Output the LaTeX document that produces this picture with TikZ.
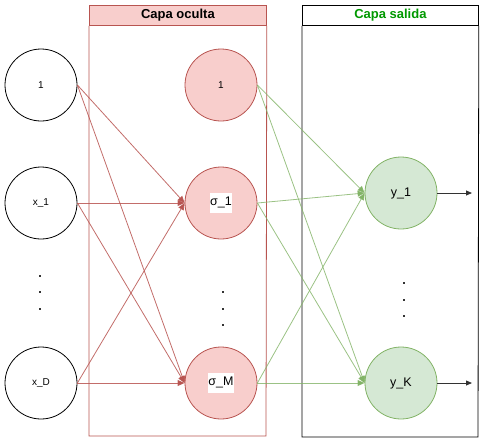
\documentclass[tikz,border=0pt]{standalone}
\usepackage{fontspec}
\setmainfont{Liberation Sans}
\usetikzlibrary{arrows.meta}
\definecolor{rstroke}{HTML}{B85450}
\definecolor{rfill}{HTML}{F8CECC}
\definecolor{gstroke}{HTML}{82B366}
\definecolor{gfill}{HTML}{D5E8D4}
\definecolor{gtext}{HTML}{009900}
\begin{document}
\begin{tikzpicture}[x=1pt,y=-1pt,
  inneur/.style={circle,draw=black,line width=0.8pt,minimum size=72pt,inner sep=0pt,font=\fontsize{10}{12}\selectfont},
  hidneur/.style={circle,draw=rstroke,fill=rfill,line width=0.8pt,minimum size=72pt,inner sep=0pt,font=\fontsize{12.5}{14}\selectfont},
  outneur/.style={circle,draw=gstroke,fill=gfill,line width=0.8pt,minimum size=72pt,inner sep=0pt,font=\fontsize{12.5}{14}\selectfont},
  redge/.style={draw=rstroke,draw opacity=0.85,line width=0.8pt,-{Triangle[length=7pt,width=6pt]}},
  gedge/.style={draw=gstroke,draw opacity=0.8,line width=0.8pt,-{Triangle[length=7pt,width=6pt]}},
  oedge/.style={draw=black!80,line width=0.8pt,-{Triangle[length=6pt,width=5pt]}},
  dotsq/.style={fill=black!80,minimum size=1.5pt,inner sep=0pt}
]
\useasboundingbox (0,0) rectangle (486,442);
% layers
\node[draw=rstroke,line width=0.8pt,minimum width=177pt,minimum height=20pt,fill=rfill,anchor=north west,inner sep=0pt,font=\bfseries\fontsize{13}{15}\selectfont] (hhead) at (89,5) {Capa oculta};
\draw[rstroke,line width=0.8pt] (hhead.south west) -- (89,436) -- (266,436) -- (hhead.south east);
\node[draw=black,line width=0.8pt,minimum width=176pt,minimum height=20pt,fill=white,anchor=north west,inner sep=0pt,text=gtext,font=\bfseries\fontsize{13}{15}\selectfont] (ohead) at (302,5) {Capa salida};
\draw[black,line width=0.8pt] (ohead.south west) -- (302,437) -- (478,437) -- (ohead.south east);
% input neurons
\node[inneur] (i0) at (41,85) {1};
\node[inneur] (i1) at (41,203) {x\_1};
\node[inneur] (iD) at (41,383) {x\_D};
\node[dotsq] (id1) at (40,276) {};
\node[dotsq] (id2) at (40,292) {};
\node[dotsq] (id3) at (40,309) {};
% hidden neurons
\node[hidneur] (h0) at (221,85) {\fontsize{10}{12}\selectfont 1};
\node[hidneur] (h1) at (221,203) {\colorbox{white}{\strut\kern-3pt σ\_1\kern-3pt}};
\node[hidneur] (hM) at (221,383) {\colorbox{white}{\strut\kern-3pt σ\_M\kern-3pt}};
\node[dotsq] (hd1) at (223,292) {};
\node[dotsq] (hd2) at (223,309) {};
\node[dotsq] (hd3) at (223,325) {};
% output neurons
\node[outneur] (o1) at (401,193) {y\_1};
\node[outneur] (oK) at (401,383) {y\_K};
\node[dotsq] (od1) at (404,283) {};
\node[dotsq] (od2) at (404,300) {};
\node[dotsq] (od3) at (404,316) {};
% output arrows
\coordinate (e1) at (472,193);
\coordinate (eK) at (472,383);
\draw[oedge] (o1.east) -- (e1);
\draw[oedge] (oK.east) -- (eK);
% input to hidden
\foreach \s in {i0,i1,iD}{
  \draw[redge] (\s.east) -- (h1.west);
  \draw[redge] (\s.east) -- (hM.west);
}
% hidden to output
\foreach \s in {h0,h1,hM}{
  \draw[gedge] (\s.east) -- (o1.west);
  \draw[gedge] (\s.east) -- (oK.west);
}
\end{tikzpicture}
\end{document}
